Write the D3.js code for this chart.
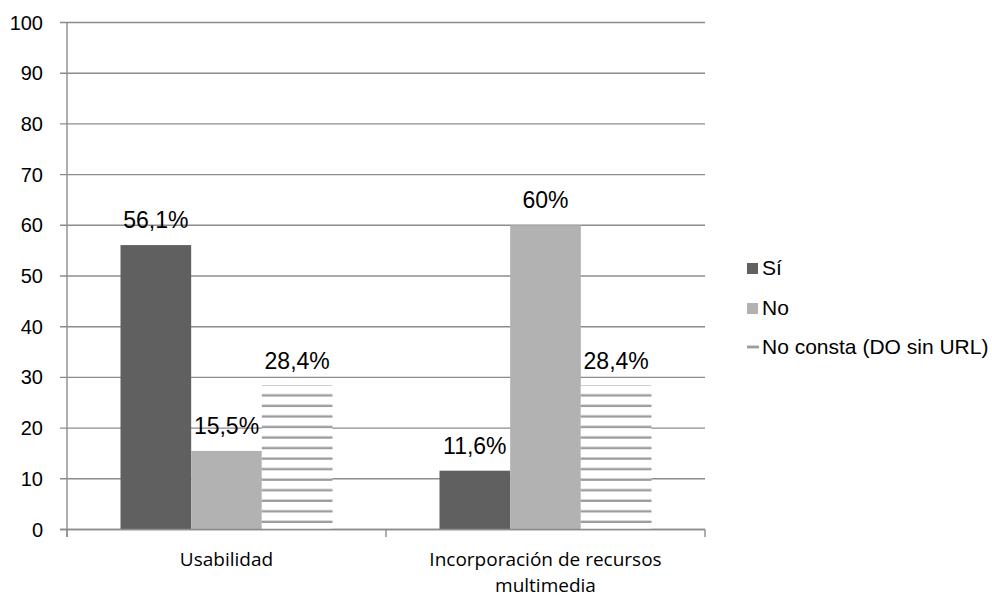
<!DOCTYPE html>
<html>
<head>
  <meta charset="utf-8">
  <style>
    body { margin: 0; background: #fff; }
    text { font-family: "Liberation Sans", Arial, sans-serif; fill: #000; }
    .cat { font-family: "Open Sans", "Noto Sans", sans-serif; }
  </style>
</head>
<body>
<script src="https://d3js.org/d3.v7.min.js"></script>
<svg id="chart"></svg>
<script>
  // data
  var categories = [["Usabilidad"], ["Incorporación de recursos", "multimedia"]];
  var series = ["Sí", "No", "No consta (DO sin URL)"];
  var valuesSi = [56.1, 11.6];
  var valuesNo = [15.5, 60];
  var valuesNoConsta = [28.4, 28.4];
  var labelsSi = ["56,1%", "11,6%"];
  var labelsNo = ["15,5%", "60%"];
  var labelsNoConsta = ["28,4%", "28,4%"];
  var yTicks = [0, 10, 20, 30, 40, 50, 60, 70, 80, 90, 100];

  var width = 992, height = 599;
  var svg = d3.select('#chart').attr('width', width).attr('height', height);

  var gridColor = '#8c8c8c';
  var colors = ['#606060', '#b2b2b2', 'url(#hatch)'];

  // hatch for the third series
  var defs = svg.append('defs');
  var pat = defs.append('pattern')
    .attr('id', 'hatch')
    .attr('patternUnits', 'userSpaceOnUse')
    .attr('width', 10).attr('height', 10.54)
    .attr('y', 386);
  pat.append('rect').attr('width', 10).attr('height', 10.54).attr('fill', '#fff');
  pat.append('rect').attr('y', 8.2).attr('width', 10).attr('height', 2.6).attr('fill', '#9c9c9c');

  var x = d3.scaleBand()
    .domain(d3.range(categories.length))
    .range([67, 705]);

  var xSub = d3.scaleBand()
    .domain(d3.range(series.length))
    .range([53.5, x.bandwidth() - 53.5]);

  var y = d3.scaleLinear()
    .domain([0, 100])
    .range([529.5, 22.5]);

  // gridlines
  svg.append('g')
    .selectAll('line')
    .data(yTicks)
    .enter()
    .append('line')
    .attr('x1', 60).attr('x2', 705)
    .attr('y1', function(d) { return y(d); })
    .attr('y2', function(d) { return y(d); })
    .attr('stroke', gridColor)
    .attr('stroke-width', 1.4);

  // y tick labels
  svg.append('g')
    .selectAll('text')
    .data(yTicks)
    .enter()
    .append('text')
    .attr('x', 43)
    .attr('y', function(d) { return y(d) + 7; })
    .attr('text-anchor', 'end')
    .style('font-size', '20px')
    .text(function(d) { return d; });

  // bars
  var seriesData = [
    { values: valuesSi, labels: labelsSi },
    { values: valuesNo, labels: labelsNo },
    { values: valuesNoConsta, labels: labelsNoConsta }
  ];

  var groups = svg.append('g')
    .selectAll('g')
    .data(categories)
    .enter()
    .append('g')
    .attr('transform', function(d, i) { return 'translate(' + x(i) + ',0)'; });

  groups.selectAll('rect')
    .data(function(d, i) {
      return seriesData.map(function(s, j) { return { s: j, v: s.values[i], label: s.labels[i] }; });
    })
    .enter()
    .append('rect')
    .attr('x', function(d) { return xSub(d.s); })
    .attr('width', xSub.bandwidth())
    .attr('y', function(d) { return y(d.v); })
    .attr('height', function(d) { return y(0) - y(d.v); })
    .attr('fill', function(d) { return colors[d.s]; });

  groups.selectAll('text.lbl')
    .data(function(d, i) {
      return seriesData.map(function(s, j) { return { s: j, v: s.values[i], label: s.labels[i] }; });
    })
    .enter()
    .append('text')
    .attr('class', 'lbl')
    .attr('x', function(d) { return xSub(d.s) + xSub.bandwidth() / 2; })
    .attr('y', function(d) { return y(d.v) - 17; })
    .attr('text-anchor', 'middle')
    .style('font-size', '23px')
    .text(function(d) { return d.label; });

  // axes
  svg.append('line')
    .attr('x1', 67).attr('x2', 67)
    .attr('y1', y(100)).attr('y2', 537)
    .attr('stroke', gridColor).attr('stroke-width', 1.4);
  svg.append('line')
    .attr('x1', 60).attr('x2', 705)
    .attr('y1', y(0)).attr('y2', y(0))
    .attr('stroke', gridColor).attr('stroke-width', 1.4);
  svg.append('g')
    .selectAll('line')
    .data(d3.range(categories.length + 1))
    .enter()
    .append('line')
    .attr('x1', function(d) { return 67 + d * x.bandwidth(); })
    .attr('x2', function(d) { return 67 + d * x.bandwidth(); })
    .attr('y1', y(0)).attr('y2', 537)
    .attr('stroke', gridColor).attr('stroke-width', 1.4);

  // category labels
  groups.append('text')
    .attr('class', 'cat')
    .attr('x', x.bandwidth() / 2)
    .attr('y', 566)
    .attr('text-anchor', 'middle')
    .style('font-size', '19px')
    .selectAll('tspan')
    .data(function(d) { return d; })
    .enter()
    .append('tspan')
    .attr('x', x.bandwidth() / 2)
    .attr('dy', function(d, i) { return i === 0 ? 0 : 26; })
    .text(function(d) { return d; });

  // legend
  var legend = svg.append('g')
    .selectAll('g')
    .data(series)
    .enter()
    .append('g')
    .attr('transform', function(d, i) { return 'translate(747,' + [268, 308, 347][i] + ')'; });

  legend.each(function(d, i) {
    var g = d3.select(this);
    if (i < 2) {
      g.append('rect').attr('x', 0).attr('y', -5).attr('width', 11).attr('height', 11).attr('fill', colors[i]);
    } else {
      g.append('rect').attr('x', 0).attr('y', -1.4).attr('width', 12).attr('height', 2.8).attr('fill', '#9c9c9c');
    }
    g.append('text')
      .attr('x', 15)
      .attr('y', 7)
      .style('font-size', '21px')
      .text(d);
  });
</script>
</body>
</html>
